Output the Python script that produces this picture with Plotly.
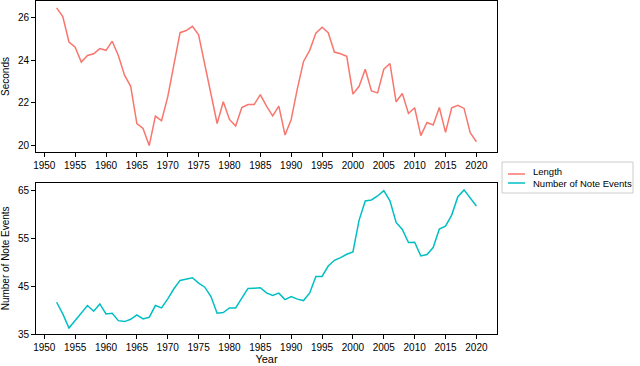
import plotly.graph_objects as go

years = list(range(1952, 2021))

length_sec = [
    26.47, 26.06, 24.86, 24.62, 23.92, 24.23, 24.31, 24.55, 24.47, 24.90,
    24.23, 23.30, 22.78, 21.03, 20.80, 19.99, 21.38, 21.16, 22.28, 23.77,
    25.30, 25.40, 25.60, 25.20, 23.85, 22.50, 21.03, 22.05, 21.22, 20.91,
    21.78, 21.92, 21.92, 22.39, 21.85, 21.39, 21.85, 20.49, 21.22, 22.67,
    23.95, 24.47, 25.28, 25.56, 25.30, 24.39, 24.31, 24.19, 22.41, 22.78,
    23.58, 22.56, 22.47, 23.58, 23.85, 22.05, 22.44, 21.50, 21.77, 20.46,
    21.08, 20.96, 21.78, 20.61, 21.77, 21.88, 21.74, 20.60, 20.17,
]

note_events = [
    41.65, 39.20, 36.26, 37.80, 39.55, 40.96, 39.77, 41.30, 39.20, 39.35,
    37.80, 37.60, 38.08, 39.00, 38.15, 38.50, 40.96, 40.47, 42.37, 44.47,
    46.22, 46.50, 46.78, 45.65, 44.80, 42.85, 39.35, 39.50, 40.47, 40.47,
    42.50, 44.54, 44.60, 44.68, 43.60, 43.06, 43.55, 42.20, 42.85, 42.30,
    42.00, 43.60, 47.06, 47.06, 49.23, 50.43, 51.00, 51.70, 52.20, 58.85,
    62.85, 63.06, 63.90, 65.00, 62.90, 58.36, 56.90, 54.16, 54.20, 51.34,
    51.63, 53.10, 56.96, 57.60, 59.90, 63.76, 65.17, 63.55, 61.80,
]

series_names = ["Length", "Number of Note Events"]
x_ticks = list(range(1950, 2021, 5))
y1_ticks = [20, 22, 24, 26]
y2_ticks = [35, 45, 55, 65]

RED = "#F8766D"
CYAN = "#00BFC4"
COLORS = [RED, CYAN]
FONT = "Liberation Sans, Arial, sans-serif"

W, H = 640, 366
ML, MR, MT, MB = 36, 143, 1, 32
PW = W - ML - MR
PH = H - MT - MB


def px(xpix):
    return (xpix - ML) / PW


def py(ypix):
    return (H - MB - ypix) / PH


fig = go.Figure()
fig.add_trace(go.Scatter(x=years, y=length_sec, mode="lines", name=series_names[0],
                         line=dict(color=RED, width=1.5), xaxis="x", yaxis="y",
                         showlegend=False))
fig.add_trace(go.Scatter(x=years, y=note_events, mode="lines", name=series_names[1],
                         line=dict(color=CYAN, width=1.5), xaxis="x2", yaxis="y2",
                         showlegend=False))

axis_common = dict(showline=True, mirror=True, linecolor="black", linewidth=1,
                   ticks="outside", ticklen=4, tickcolor="black", tickwidth=1,
                   showgrid=False, zeroline=False,
                   tickfont=dict(family=FONT, size=10, color="black"))

# legend (drawn as box + sample lines + text)
shapes = [dict(type="rect", xref="paper", yref="paper",
               x0=px(502), x1=px(633), y0=py(193), y1=py(162),
               line=dict(color="#cccccc", width=1), fillcolor="white")]
annotations = []
row_line_y = [174, 183]
row_text_y = [171, 183]
for name, col, ly, ty in zip(series_names, COLORS, row_line_y, row_text_y):
    shapes.append(dict(type="line", xref="paper", yref="paper",
                       x0=px(508), x1=px(525), y0=py(ly), y1=py(ly),
                       line=dict(color=col, width=1.5)))
    annotations.append(dict(text=name, xref="paper", yref="paper",
                            x=px(531), y=py(ty), xanchor="left", yanchor="middle",
                            showarrow=False,
                            font=dict(family=FONT, size=9.5, color="black")))

xr = [1948.66, 2023.34]
fig.update_layout(
    width=W, height=H,
    margin=dict(l=ML, r=MR, t=MT, b=MB),
    paper_bgcolor="white", plot_bgcolor="white",
    font=dict(family=FONT, size=10, color="black"),
    showlegend=False,
    shapes=shapes,
    annotations=annotations,
    xaxis=dict(domain=[0, 1], range=xr, tickvals=x_ticks, anchor="y", **axis_common),
    yaxis=dict(domain=[py(152), 1], range=[19.69, 26.79], tickvals=y1_ticks,
               title=dict(text="Seconds", standoff=8, font=dict(family=FONT, size=10)),
               anchor="x", **axis_common),
    xaxis2=dict(domain=[0, 1], range=xr, tickvals=x_ticks, anchor="y2",
                title=dict(text="Year", standoff=2, font=dict(family=FONT, size=11)),
                **axis_common),
    yaxis2=dict(domain=[0, py(182.7)], range=[35, 66.68], tickvals=y2_ticks,
                title=dict(text="Number of Note Events", standoff=8, font=dict(family=FONT, size=10)),
                anchor="x2", **axis_common),
)

fig.write_html("out.html", config={"displayModeBar": False},
               post_script="document.body.style.margin='0';")
